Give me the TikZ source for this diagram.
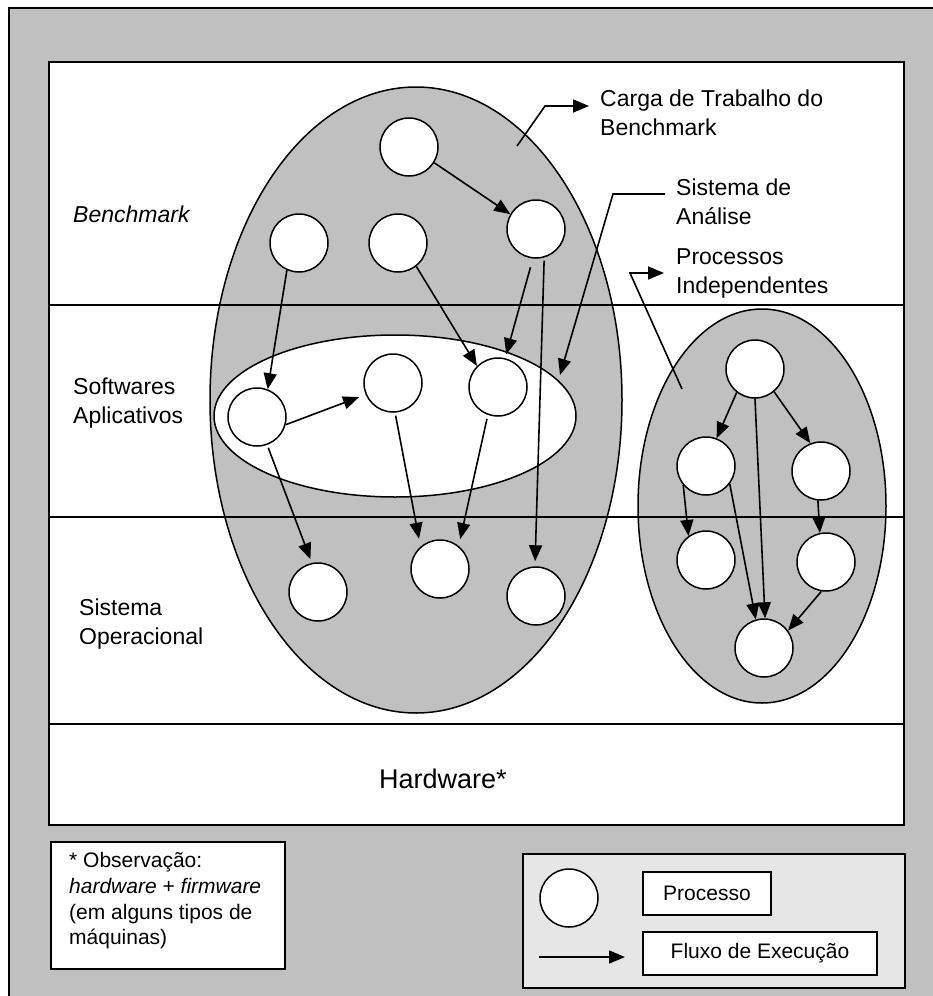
\documentclass[tikz,border=0pt]{standalone}
\usepackage{fontspec}
\setmainfont{Liberation Sans}
\usetikzlibrary{arrows.meta, shapes.geometric}
\definecolor{panelgray}{HTML}{C0C0C0}
\definecolor{legendgray}{HTML}{E6E6E6}

\begin{document}
\begin{tikzpicture}[x=1pt, y=-1pt]
\useasboundingbox (0,0) rectangle (933,996);
\clip (0,0) rectangle (933,996);
\fill[panelgray, draw=black, line width=2pt] (9,8) rectangle (960,1030);
\draw[fill=white, line width=2pt] (49,62) rectangle (904,825);

\begin{scope}[every node/.style={ellipse,draw,line width=1.5pt,inner sep=0}]
    \node (workload) at (416,400) [fill=panelgray, minimum width=412pt, minimum height=626pt] {};
    \node (apps) at (395,416) [fill=white, minimum width=362pt, minimum height=162pt] {};
    \node (indep) at (762,506) [fill=panelgray, minimum width=248pt, minimum height=394pt] {};
\end{scope}

\foreach \y in {305,517,724}
    \draw[line width=2pt] (49,\y) -- (904,\y);

% boxes at the bottom
\draw[fill=white, line width=1.5pt] (51,842) rectangle (285,969);
\draw[fill=legendgray, line width=1.5pt] (523,854) rectangle (905,988);

\begin{scope}[every node/.style={circle,draw,fill=white,line width=1.5pt,minimum size=58pt,inner sep=0}]
    \node (load) at (409,147) {};
    \node (bench1) at (299,243) {};
    \node (bench2) at (398,243) {};
    \node (bench3) at (536,229) {};

    \node (app1) at (257,417) {};
    \node (app2) at (393,383) {};
    \node (app3) at (498,387) {};

    \node (os1) at (318,592) {};
    \node (os2) at (440,569) {};
    \node (os3) at (536,596) {};

    \node (ind1) at (755,369) {};
    \node (ind2) at (706,466) {};
    \node (ind3) at (821,471) {};
    \node (ind4) at (706,560) {};
    \node (ind5) at (826,562) {};
    \node (ind6) at (764,648) {};

    \node (keyproc) at (569,898) {};
\end{scope}

\begin{scope}[every node/.style={anchor=west,align=left,inner sep=0,font=\fontsize{23}{29}\selectfont}]
    \node (benchtext) at (73,214) {\textit{Benchmark}};
    \node (appstext) at (73,403) {Softwares\\Aplicativos};
    \node (ostext) at (79,624) {Sistema\\Operacional};
    \node (carga) at (600,113) {Carga de Trabalho do\\Benchmark};
    \node (analise) at (676,202) {Sistema de\\An\'alise};
    \node (procind) at (676,273) {Processos\\Independentes};
\end{scope}

\node (hw) at (443,779) [font=\fontsize{27}{32}\selectfont] {Hardware*};

\node (obs) at (69,901) [anchor=west, align=left, inner sep=0, font=\fontsize{21}{25.7}\selectfont]
    {* Observa\c{c}\~ao:\\\textit{hardware} + \textit{firmware}\\(em alguns tipos de\\m\'aquinas)};

\begin{scope}[every node/.style={draw,fill=white,line width=1.5pt,font=\fontsize{21}{25}\selectfont}]
    \node (keyproctext) at (707,893.5) [minimum width=128pt, minimum height=43pt] {Processo};
    \node (keyflowtext) at (760,953.5) [minimum width=234pt, minimum height=43pt] {Fluxo de Execu\c{c}\~ao};
\end{scope}
\coordinate (keyflowa) at (539,957);
\coordinate (keyflowb) at (625,957);

\coordinate (loadpt) at (517,146);
\coordinate (analisept) at (560,375);
\coordinate (indpt) at (682,389);

\begin{scope}[>={Triangle[length=16pt,width=13pt]},
              every edge/.style={draw,line width=1.6pt}]
    \path [->] (load.-32) edge (bench3.150);
    \path [->] (bench1.-114) edge (app1.69);
    \path [->] (bench2.-52) edge (app3.135);
    \path [->] (bench3.-96) edge [shorten <=9pt, shorten >=4pt] (app3.76);
    \path [->] (bench3.-74) edge [shorten <=3pt, shorten >=5pt] (os3.92);
    \path [->] (app1.-15) edge [shorten >=7pt] (app2.-157);
    \path [->] (app1.-70) edge [shorten <=3pt, shorten >=4pt] (os1.102);
    \path [->] (app2.-86) edge [shorten <=3pt, shorten >=8pt] (os2.131);
    \path [->] (app3.-110) edge [shorten <=4pt, shorten >=7pt] (os2.51);

    \path [->] (ind1.-128) edge (ind2.69);
    \path [->] (ind1.-50) edge (ind3.111);
    \path [->] (ind1.south) edge (ind6.88);
    \path [->] (ind2.-140) edge (ind4.126);
    \path [->] (ind2.-37) edge (ind6.106);
    \path [->] (ind3.-96) edge (ind5.102);
    \path [->] (ind5.-99) edge (ind6.36);

    \path [->] (keyflowa) edge (keyflowb);

    \draw [->, line width=1.6pt] (loadpt) -- (545,106) -- ([shift={(-11,-7)}]carga.west);
    \draw [->, line width=1.6pt] ([shift={(-11,-8)}]analise.west) -- (613,194) -- (analisept);
    \draw [->, line width=1.6pt] (indpt) -- (630,273) -- ([shift={(-12,0)}]procind.west);
\end{scope}
\end{tikzpicture}
\end{document}
